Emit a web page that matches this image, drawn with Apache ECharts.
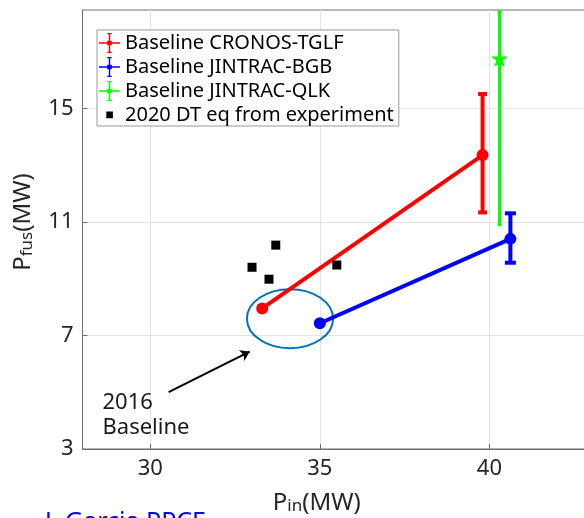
<!DOCTYPE html>
<html><head><meta charset="utf-8">
<script src="https://cdn.jsdelivr.net/npm/echarts@6/dist/echarts.min.js"></script>
<style>html,body{margin:0;padding:0;background:#fff;overflow:hidden}#c{width:584px;height:518px}</style>
</head><body><div id="c"></div>
<script>
// ---- data ----
const xTicks = [30, 35, 40];
const yTicks = [3, 7, 11, 15];
const xRange = [28, 44];
const yRange = [3, 18.46];

const seriesNames = ['Baseline CRONOS-TGLF', 'Baseline JINTRAC-BGB', 'Baseline JINTRAC-QLK', '2020 DT eq from experiment'];

const cronosX = [33.3, 39.8];
const cronosY = [7.95, 13.35];
const cronosLow = [null, 11.33];
const cronosHigh = [null, 15.5];

const bgbX = [35.0, 40.62];
const bgbY = [7.43, 10.40];
const bgbLow = [null, 9.56];
const bgbHigh = [null, 11.30];

const qlkX = [40.3];
const qlkY = [16.75];
const qlkLow = [10.9];
const qlkHigh = [18.4];

const expX = [33.0, 33.5, 33.7, 35.5];
const expY = [9.4, 8.98, 10.18, 9.48];

const ellipseCenter = [34.12, 7.59];
const ellipseRadii = [1.27, 1.04];
const arrowFrom = [30.54, 5.0];
const arrowTo = [32.93, 6.43];
const noteAt = [28.59, 5.08];
const noteText = '2016\nBaseline';
const creditText = 'J. Garcia PPCF';

// ---- helpers ----
const FONT = 'Noto Sans';
const zip = (xs, ys) => xs.map((x, i) => [x, ys[i]]);
const errData = (xs, lo, hi) => xs.map((x, i) => [x, lo[i], hi[i]]).filter(d => d[1] != null);

function errRenderer(color, width, halfCap) {
  return function (params, api) {
    const x = api.value(0), lo = api.value(1), hi = api.value(2);
    const a = api.coord([x, hi]), b = api.coord([x, lo]);
    const st = { stroke: color, lineWidth: width };
    return { type: 'group', children: [
      { type: 'line', shape: { x1: a[0], y1: a[1], x2: b[0], y2: b[1] }, style: st },
      { type: 'line', shape: { x1: a[0] - halfCap, y1: a[1], x2: a[0] + halfCap, y2: a[1] }, style: st },
      { type: 'line', shape: { x1: b[0] - halfCap, y1: b[1], x2: b[0] + halfCap, y2: b[1] }, style: st }
    ]};
  };
}

const errIcon = 'path://M0,9.3h21v1.4h-21z M9.8,0h1.4v20h-1.4z M8.3,0h4.4v1.3h-4.4z M8.3,18.7h4.4v1.3h-4.4z M8.2,7.7h4.6v4.6h-4.6z';
const sqIcon = 'path://M0,0h0.01v0.01h-0.01z M20.99,19.99h0.01v0.01h-0.01z M7.3,6.6h6.6v6.6h-6.6z';

const chart = echarts.init(document.getElementById('c'), null, { renderer: 'canvas' });

const option = {
  animation: false,
  backgroundColor: '#fff',
  textStyle: { fontFamily: FONT },
  grid: { left: 82.5, top: 10, bottom: 69, right: -41, show: true, borderColor: '#6e6e6e', borderWidth: 1, containLabel: false, outerBoundsMode: 'none' },
  legend: {
    orient: 'vertical', left: 97, top: 30, z: 20,
    padding: [3, 5, 1, 2],
    itemGap: 4, itemWidth: 21, itemHeight: 20,
    backgroundColor: '#fff', borderColor: '#9a9a9a', borderWidth: 1,
    textStyle: { fontFamily: FONT, fontSize: 20, color: '#000' },
    data: [
      { name: seriesNames[0], icon: errIcon },
      { name: seriesNames[1], icon: errIcon },
      { name: seriesNames[2], icon: errIcon },
      { name: seriesNames[3], icon: sqIcon }
    ],
    selectedMode: false
  },
  xAxis: {
    type: 'value', min: xRange[0], max: xRange[1],
    name: '{m|P}{s|in}{m|(MW)}', nameLocation: 'middle', nameGap: 36,
    nameTextStyle: { padding: [0, 74, 0, 0], rich: {
      m: { fontFamily: FONT, fontSize: 24, color: '#262626', lineHeight: 24, verticalAlign: 'top' },
      s: { fontFamily: FONT, fontSize: 17, color: '#262626', lineHeight: 16, padding: [13, 0, 0, 0], verticalAlign: 'bottom' }
    }},
    axisLine: { show: true, lineStyle: { color: '#6e6e6e', width: 1 } },
    axisTick: { show: true, inside: true, length: 5, customValues: xTicks, lineStyle: { color: '#6e6e6e' } },
    axisLabel: { customValues: xTicks, fontFamily: FONT, fontSize: 22, color: '#262626', margin: 9 },
    splitLine: { show: false }
  },
  yAxis: {
    type: 'value', min: yRange[0], max: yRange[1],
    name: '{m|P}{s|fus}{m|(MW)}', nameLocation: 'middle', nameGap: 47, nameRotate: 90,
    nameTextStyle: { padding: [0, 0, 0, 15], rich: {
      m: { fontFamily: FONT, fontSize: 24, color: '#262626', lineHeight: 24, verticalAlign: 'top' },
      s: { fontFamily: FONT, fontSize: 17, color: '#262626', lineHeight: 16, padding: [13, 0, 0, 0], verticalAlign: 'bottom' }
    }},
    axisLine: { show: true, lineStyle: { color: '#6e6e6e', width: 1 } },
    axisTick: { show: true, inside: true, length: 5, customValues: yTicks, lineStyle: { color: '#6e6e6e' } },
    axisLabel: { customValues: yTicks, fontFamily: FONT, fontSize: 22, color: '#262626', margin: 9 },
    splitLine: { show: false }
  },
  graphic: [
    { type: 'text', left: 45, top: 510, silent: true,
      style: { text: creditText, fontFamily: FONT, fontSize: 25, fill: '#0000ff' } }
  ],
  series: [
    { // grid lines
      type: 'line', name: 'gridlines', data: [], silent: true, z: 0,
      markLine: { silent: true, symbol: 'none', animation: false, z: 0, label: { show: false },
        lineStyle: { color: '#e4e4e4', width: 1, type: 'solid' },
        emphasis: { disabled: true },
        data: xTicks.map(v => ({ xAxis: v })).concat(yTicks.slice(1).map(v => ({ yAxis: v }))) }
    },
    { // ellipse
      type: 'custom', name: 'ellipse', silent: true, z: 2,
      data: [[ellipseCenter[0], ellipseCenter[1], ellipseRadii[0], ellipseRadii[1]]],
      renderItem: function (params, api) {
        const c = api.coord([api.value(0), api.value(1)]);
        const s = api.size([api.value(2), api.value(3)]);
        return { type: 'ellipse', shape: { cx: c[0], cy: c[1], rx: s[0], ry: s[1] },
          style: { fill: 'none', stroke: '#0072BD', lineWidth: 2 } };
      }
    },
    { // arrow
      type: 'line', name: 'arrow', data: [], silent: true, z: 3,
      markLine: { silent: true, symbol: ['none', 'arrow'], symbolSize: 9, animation: false, z: 3,
        label: { show: false }, emphasis: { disabled: true },
        lineStyle: { color: '#000', width: 2, type: 'solid' },
        data: [[{ coord: arrowFrom }, { coord: arrowTo }]] }
    },
    { // annotation text
      type: 'custom', name: 'note', silent: true, z: 3,
      data: [noteAt],
      renderItem: function (params, api) {
        const p = api.coord([api.value(0), api.value(1)]);
        return { type: 'text', x: p[0], y: p[1],
          style: { text: noteText, fontFamily: FONT, fontSize: 22, lineHeight: 25, fill: '#1a1a1a', align: 'left', verticalAlign: 'top' } };
      }
    },
    { type: 'custom', name: 'errC', silent: true, z: 4, data: errData(cronosX, cronosLow, cronosHigh), renderItem: errRenderer('#ff0000', 4, 4.5) },
    { type: 'custom', name: 'errB', silent: true, z: 4, data: errData(bgbX, bgbLow, bgbHigh), renderItem: errRenderer('#0000ff', 4, 5.5) },
    { type: 'custom', name: 'errQ', silent: true, z: 4, data: errData(qlkX, qlkLow, qlkHigh), renderItem: errRenderer('#00ff00', 3, 2) },
    { type: 'line', name: seriesNames[0], data: zip(cronosX, cronosY), z: 5,
      color: '#ff0000', lineStyle: { color: '#ff0000', width: 4 },
      symbol: 'circle', symbolSize: 12, showSymbol: true, itemStyle: { color: '#ff0000', borderWidth: 0, opacity: 1 } },
    { type: 'line', name: seriesNames[1], data: zip(bgbX, bgbY), z: 5,
      color: '#0000ff', lineStyle: { color: '#0000ff', width: 4 },
      symbol: 'circle', symbolSize: 12, showSymbol: true, itemStyle: { color: '#0000ff', borderWidth: 0, opacity: 1 } },
    { type: 'scatter', name: seriesNames[2], data: zip(qlkX, qlkY), z: 6,
      color: '#00ff00', symbol: 'path://M50,0 L61.8,35.1 L98.9,35.5 L69.1,57.7 L80.2,93.1 L50,71.6 L19.8,93.1 L30.9,57.7 L1.1,35.5 L38.2,35.1 Z', symbolSize: 17,
      itemStyle: { color: '#00ff00', opacity: 1 } },
    { type: 'scatter', name: seriesNames[3], data: zip(expX, expY), z: 5,
      color: '#000', symbol: 'rect', symbolSize: 9, itemStyle: { color: '#000', opacity: 1 } }
  ]
};
chart.setOption(option);
</script>
</body></html>
